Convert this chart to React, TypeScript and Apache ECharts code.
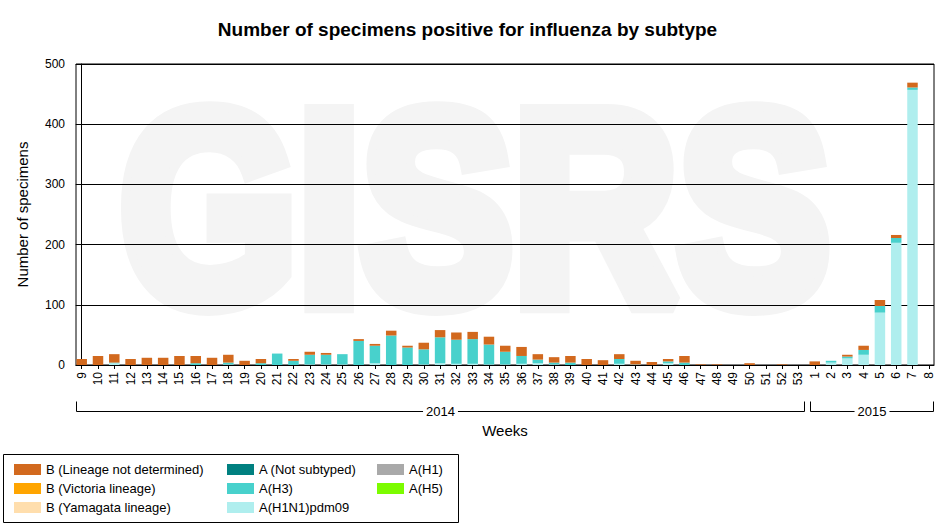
import React, { useEffect, useRef } from "react";
import * as echarts from "echarts";

const FONT = "'Liberation Sans', Arial, sans-serif";

const weekLabels = [
  "9", "10", "11", "12", "13", "14", "15", "16", "17", "18",
  "19", "20", "21", "22", "23", "24", "25", "26", "27", "28",
  "29", "30", "31", "32", "33", "34", "35", "36", "37", "38",
  "39", "40", "41", "42", "43", "44", "45", "46", "47", "48",
  "49", "50", "51", "52", "53",
  "1", "2", "3", "4", "5", "6", "7", "8",
];

const yearGroups = [
  { label: "2014", first: 0, last: 44 },
  { label: "2015", first: 45, last: 52 },
];

// Values per week (2014 wk 9 .. 2015 wk 8)
const aH1N1pdm09 = [
  0, 0, 3, 0, 0, 0, 0, 0, 0, 1,
  0, 0, 0, 0, 1, 1, 1, 0, 3, 0,
  0, 1, 3, 2, 2, 1, 1, 2, 3, 1,
  0, 0, 0, 2, 1, 0, 3, 0, 0, 0,
  0, 0, 0, 0, 0,
  0, 4, 11, 17, 87, 203, 457, 0,
];
const aH3 = [
  0, 0, 1, 0, 0, 0, 0, 3, 0, 3,
  0, 3, 19, 7, 16, 16, 17, 40, 29, 49,
  29, 25, 43, 40, 41, 33, 21, 13, 6, 3,
  4, 0, 0, 8, 0, 0, 3, 4, 0, 0,
  0, 0, 0, 0, 0,
  0, 3, 3, 8, 11, 8, 4, 0,
];
const bLineageNotDetermined = [
  10, 15, 14, 10, 12, 12, 15, 12, 12, 13,
  7, 7, 0, 3, 5, 3, 0, 3, 3, 8,
  3, 11, 12, 12, 12, 13, 10, 15, 9, 9,
  11, 10, 8, 8, 6, 5, 4, 11, 1, 1,
  0, 3, 0, 1, 0,
  6, 0, 3, 7, 10, 5, 8, 0,
];
const aNotSubtyped: number[] = [];
const aH1: number[] = [];
const aH5: number[] = [];
const bYamagata: number[] = [];
const bVictoria: number[] = [];

const yTicks = [0, 100, 200, 300, 400, 500];

const X_MIN = -0.35;
const X_MAX = 52.32;

// stack order bottom -> top
const seriesDefs = [
  { name: "A(H1N1)pdm09", color: "#AFEEEE", values: aH1N1pdm09 },
  { name: "A(H3)", color: "#48D1CC", values: aH3 },
  { name: "A (Not subtyped)", color: "#008080", values: aNotSubtyped },
  { name: "A(H1)", color: "#A9A9A9", values: aH1 },
  { name: "A(H5)", color: "#7CFC00", values: aH5 },
  { name: "B (Yamagata lineage)", color: "#FFDEAD", values: bYamagata },
  { name: "B (Victoria lineage)", color: "#FFA500", values: bVictoria },
  { name: "B (Lineage not determined)", color: "#D2691E", values: bLineageNotDetermined },
];

const legendColumns = [
  ["B (Lineage not determined)", "B (Victoria lineage)", "B (Yamagata lineage)"],
  ["A (Not subtyped)", "A(H3)", "A(H1N1)pdm09"],
  ["A(H1)", "A(H5)"],
];
const legendLefts = [14, 227, 377];

export default function App() {
  const ref = useRef<HTMLDivElement>(null);

  useEffect(() => {
    const el = ref.current;
    if (!el) return;
    const chart = echarts.init(el, null, { renderer: "svg" });
    const tickValues = weekLabels.map((_, i) => i);

    chart.setOption({
      animation: false,
      backgroundColor: "#fff",
      textStyle: { fontFamily: FONT },
      title: {
        text: "Number of specimens positive for influenza by subtype",
        left: "center",
        top: 15,
        textStyle: { fontSize: 19, fontWeight: "bold", color: "#000", fontFamily: FONT },
      },
      grid: {
        left: 76,
        right: 1,
        top: 64,
        bottom: 164,
        show: true,
        borderColor: "#000",
        borderWidth: 1,
        backgroundColor: "transparent",
      },
      legend: legendColumns.map((col, i) => ({
        data: col,
        orient: "vertical",
        left: legendLefts[i],
        top: 463,
        itemWidth: 27,
        itemHeight: 11,
        itemGap: 6,
        icon: "rect",
        selectedMode: false,
        padding: 0,
        textStyle: { fontSize: 13, color: "#000", fontFamily: FONT },
      })),
      xAxis: {
        type: "value",
        min: X_MIN,
        max: X_MAX,
        name: "Weeks",
        nameLocation: "middle",
        nameGap: 58,
        nameTextStyle: { fontSize: 15, color: "#000", fontFamily: FONT },
        axisLine: { show: true, lineStyle: { color: "#000", width: 1 } },
        axisTick: { show: true, customValues: tickValues, length: 4, lineStyle: { color: "#000" } },
        axisLabel: {
          customValues: tickValues,
          formatter: (v: number) => weekLabels[Math.round(v)] ?? "",
          rotate: 90,
          fontSize: 12,
          color: "#000",
          margin: 7,
          fontFamily: FONT,
        },
        splitLine: { show: false },
      },
      yAxis: {
        type: "value",
        min: yTicks[0],
        max: yTicks[yTicks.length - 1],
        interval: 100,
        name: "Number of specimens",
        nameLocation: "middle",
        nameGap: 46,
        nameTextStyle: { fontSize: 15, color: "#000", fontFamily: FONT },
        axisLine: { show: true, lineStyle: { color: "#000", width: 1 } },
        axisTick: { show: true, length: 6, lineStyle: { color: "#000" } },
        axisLabel: { fontSize: 12, color: "#000", margin: 11, fontFamily: FONT },
        splitLine: { show: true, lineStyle: { color: "#000", width: 1 } },
      },
      series: seriesDefs.map((s) => ({
        name: s.name,
        type: "bar",
        stack: "total",
        barGap: "-100%",
        barWidth: 10.5,
        itemStyle: { color: s.color },
        // value first so that the y dimension is the stacked one
        encode: { x: 1, y: 0 },
        data: s.values.map((v, i) => [v, i]),
        z: 3,
      })),
    });

    const px = (v: number) => chart.convertToPixel({ xAxisIndex: 0 }, v) as number;
    const baseY = chart.convertToPixel({ yAxisIndex: 0 }, 0) as number;
    const gridLeft = px(X_MIN);
    const gridRight = px(X_MAX);
    const lastIndex = weekLabels.length - 1;
    const yb = Math.round(baseY + 46) + 0.5;

    const graphics: any[] = [
      {
        type: "text",
        z: -10,
        silent: true,
        x: 475,
        y: 208,
        scaleX: 0.83,
        style: {
          text: "GISRS",
          fill: "#f4f4f4",
          stroke: "#f4f4f4",
          lineWidth: 20,
          font: `bold 275px ${FONT}`,
          align: "center",
          verticalAlign: "middle",
        },
      },
      {
        type: "rect",
        silent: true,
        shape: { x: 3.5, y: 454.5, width: 455, height: 68 },
        style: { fill: "none", stroke: "#000", lineWidth: 1 },
      },
    ];

    yearGroups.forEach((g) => {
      const x1 = g.first === 0 ? Math.round(gridLeft) + 0.5 : Math.round(px(g.first - 0.5) + 3.5) + 0.5;
      const x2 = g.last === lastIndex ? Math.round(gridRight) - 0.5 : Math.round(px(g.last + 0.5) - 2.5) + 0.5;
      graphics.push(
        { type: "line", silent: true, shape: { x1, y1: yb, x2, y2: yb }, style: { stroke: "#000", lineWidth: 1 } },
        { type: "line", silent: true, shape: { x1, y1: yb - 10, x2: x1, y2: yb }, style: { stroke: "#000", lineWidth: 1 } },
        { type: "line", silent: true, shape: { x1: x2, y1: yb - 10, x2, y2: yb }, style: { stroke: "#000", lineWidth: 1 } },
        {
          type: "text",
          silent: true,
          z: 5,
          x: (x1 + x2) / 2,
          y: yb,
          style: {
            text: g.label,
            fill: "#000",
            font: `13px ${FONT}`,
            align: "center",
            verticalAlign: "middle",
            backgroundColor: "#fff",
            padding: [0, 3],
          },
        }
      );
    });

    chart.setOption({ graphic: graphics });

    return () => chart.dispose();
  }, []);

  return (
    <div
      ref={ref}
      style={{ position: "fixed", left: 0, top: 0, width: 935, height: 529 }}
    />
  );
}
